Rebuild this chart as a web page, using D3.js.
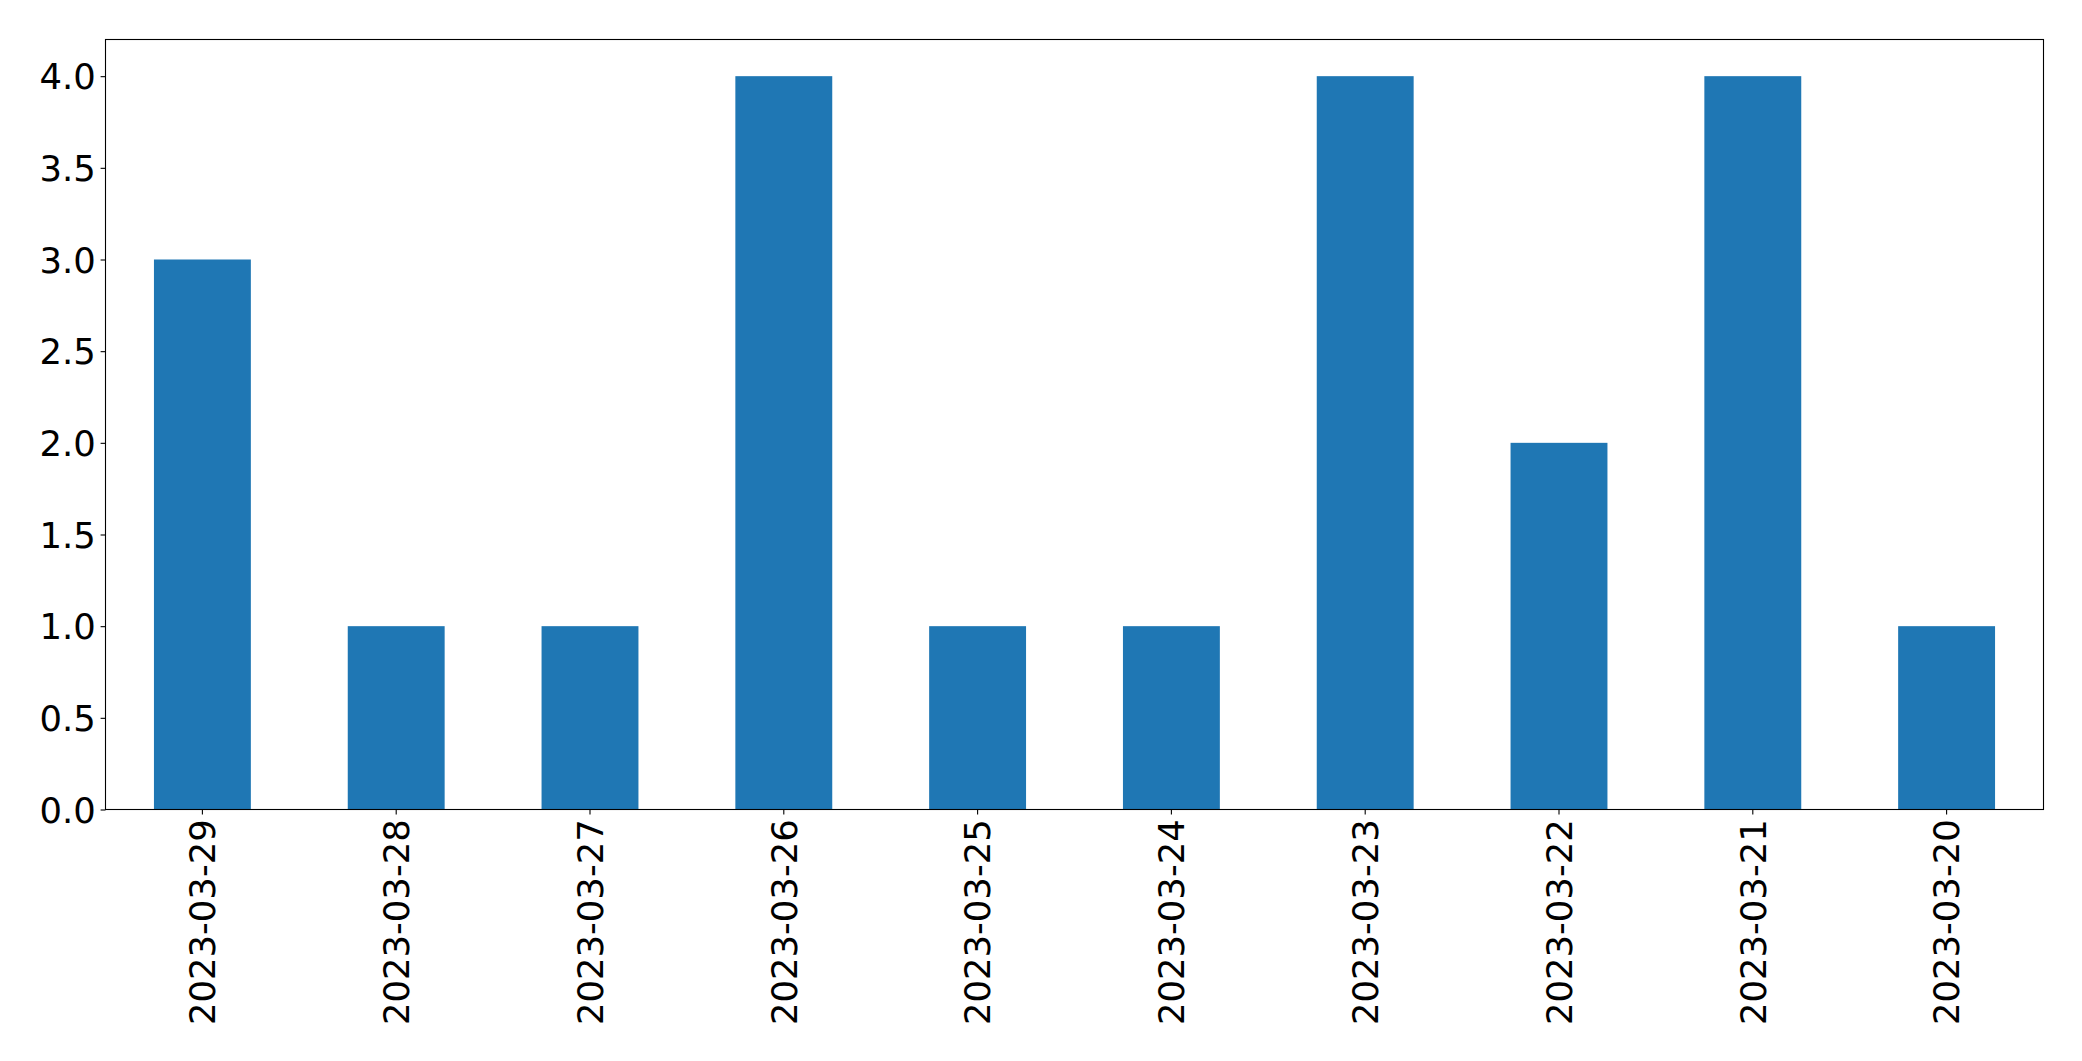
<!DOCTYPE html>
<meta charset="utf-8">
<script src="https://d3js.org/d3.v7.min.js"></script>
<style>
body { margin: 0; background: #fff; }
text { fill: #000; font-family: "DejaVu Sans", sans-serif; }
</style>
<body>
<script>
// data
var dates = ['2023-03-29','2023-03-28','2023-03-27','2023-03-26','2023-03-25',
             '2023-03-24','2023-03-23','2023-03-22','2023-03-21','2023-03-20'];
var counts = [3, 1, 1, 4, 1, 1, 4, 2, 4, 1];
var yTicks = [0, 0.5, 1, 1.5, 2, 2.5, 3, 3.5, 4];

var W = 2082, H = 1061;
var margin = {top: 39.5, right: 38.5, bottom: 251.5, left: 105.5};
var w = W - margin.left - margin.right;
var h = H - margin.top - margin.bottom;
var fontSize = '35.4px';

var svg = d3.select('body')
    .append('svg')
    .attr('width', W)
    .attr('height', H);

var g = svg.append('g')
    .attr('transform', 'translate(' + margin.left + ',' + margin.top + ')');

var x = d3.scaleBand()
    .domain(dates)
    .range([0, w])
    .paddingInner(0.5)
    .paddingOuter(0.25);

var y = d3.scaleLinear()
    .domain([0, 4.2])
    .range([h, 0]);

// bars
g.selectAll('rect.bar')
    .data(counts)
    .enter()
    .append('rect')
    .attr('class', 'bar')
    .attr('x', function(d, i) { return x(dates[i]); })
    .attr('y', function(d) { return y(d); })
    .attr('width', x.bandwidth())
    .attr('height', function(d) { return h - y(d); })
    .style('fill', '#1f77b4');

// axes
var yAxis = d3.axisLeft(y)
    .tickValues(yTicks)
    .tickFormat(d3.format('.1f'))
    .tickSize(4.9)
    .tickPadding(4.9);

var yg = g.append('g').call(yAxis);
yg.select('.domain').remove();
yg.selectAll('line').attr('stroke', '#000').attr('stroke-width', 1.1);
yg.selectAll('text').style('font-size', fontSize).attr('dy', '0.36em');

var xAxis = d3.axisBottom(x)
    .tickSize(4.9)
    .tickPadding(4.9);

var xg = g.append('g')
    .attr('transform', 'translate(0,' + h + ')')
    .call(xAxis);
xg.select('.domain').remove();
xg.selectAll('line').attr('stroke', '#000').attr('stroke-width', 1.1);
xg.selectAll('text')
    .style('font-size', fontSize)
    .attr('text-anchor', 'end')
    .attr('transform', 'rotate(-90)')
    .attr('x', -9.8)
    .attr('y', 0)
    .attr('dy', '0.36em');

// frame
g.append('rect')
    .attr('width', w)
    .attr('height', h)
    .attr('fill', 'none')
    .attr('stroke', '#000')
    .attr('stroke-width', 1.1);
</script>
</body>
</html>
